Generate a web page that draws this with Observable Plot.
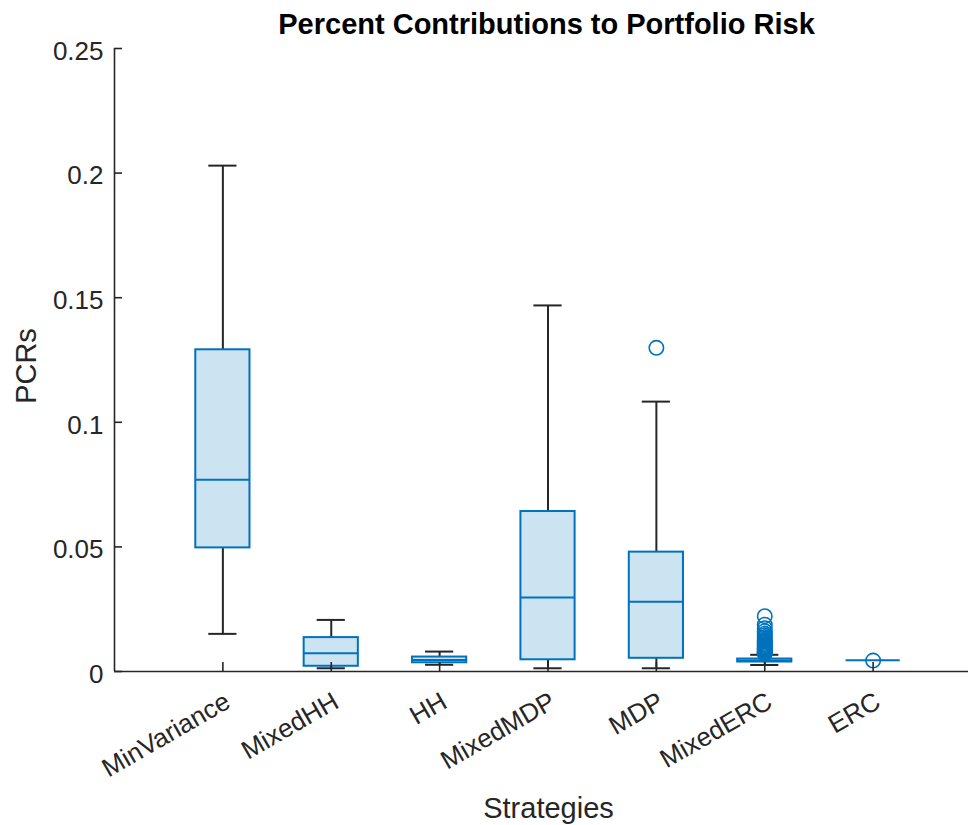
<!DOCTYPE html>
<html>
<head>
<meta charset="utf-8">
<script src="https://cdn.jsdelivr.net/npm/d3@7"></script>
<script src="https://cdn.jsdelivr.net/npm/@observablehq/plot@0.6"></script>
<style>
  html, body { margin: 0; padding: 0; background: white; }
  #chart svg { display: block; }
</style>
</head>
<body>
<div id="chart"></div>
<script>
// ---- data ----
const categories = ["MinVariance", "MixedHH", "HH", "MixedMDP", "MDP", "MixedERC", "ERC"];
const whiskerLow  = [0.0151, 0.0013, 0.0027, 0.0013, 0.0013, 0.0026, 0.0045];
const q1          = [0.0496, 0.0021, 0.0035, 0.0047, 0.0053, 0.0038, 0.0045];
const medians     = [0.0769, 0.0073, 0.0046, 0.0297, 0.0280, 0.0044, 0.0045];
const q3          = [0.1291, 0.0136, 0.0058, 0.0642, 0.0479, 0.0050, 0.0045];
const whiskerHigh = [0.2030, 0.0207, 0.0080, 0.1469, 0.1083, 0.0067, 0.0045];

const outlierCategory = [
  "MDP",
  "MixedERC", "MixedERC", "MixedERC", "MixedERC", "MixedERC", "MixedERC", "MixedERC",
  "MixedERC", "MixedERC", "MixedERC", "MixedERC", "MixedERC", "MixedERC", "MixedERC",
  "MixedERC", "MixedERC", "MixedERC", "MixedERC", "MixedERC", "MixedERC", "MixedERC",
  "MixedERC", "MixedERC", "MixedERC",
  "ERC"
];
const outlierValue = [
  0.1299,
  0.0222, 0.0188, 0.0174, 0.0162, 0.0152, 0.0145, 0.0138,
  0.0131, 0.0125, 0.0120, 0.0115, 0.0110, 0.0106, 0.0102,
  0.0098, 0.0094, 0.0091, 0.0088, 0.0085, 0.0082, 0.0079,
  0.0077, 0.0075, 0.0072,
  0.0044
];

const yTicks = [0, 0.05, 0.1, 0.15, 0.2, 0.25];
const yTickLabels = ["0", "0.05", "0.1", "0.15", "0.2", "0.25"];

const titleText = "Percent Contributions to Portfolio Risk";
const xLabelText = "Strategies";
const yLabelText = "PCRs";

// ---- derived tables ----
const boxes = categories.map((c, k) => ({
  i: k + 1, lo: whiskerLow[k], q1: q1[k], med: medians[k], q3: q3[k], hi: whiskerHigh[k]
}));
const whiskered = boxes.filter(d => d.hi > d.lo);
const outliers = outlierCategory.map((c, k) => ({ i: categories.indexOf(c) + 1, v: outlierValue[k] }));
const idx = boxes.map(d => d.i);

const blue = "#0072BD";
const ink = "#262626";
const font = "'Liberation Sans', Arial, Helvetica, sans-serif";
const halfBox = 0.25, halfCap = 0.13;

const chart = Plot.plot({
  width: 968,
  height: 825,
  marginTop: 48,
  marginBottom: 154,
  marginLeft: 114,
  marginRight: 0,
  style: { fontFamily: font, color: ink, background: "white", overflow: "visible" },
  x: { type: "linear", domain: [0, 8], range: [114, 981] },
  y: { type: "linear", domain: [0, 0.25] },
  marks: [
    // whiskers
    Plot.ruleX(whiskered, { x: "i", y1: "q3", y2: "hi", stroke: ink, strokeWidth: 2 }),
    Plot.ruleX(whiskered, { x: "i", y1: "lo", y2: "q1", stroke: ink, strokeWidth: 2 }),
    Plot.ruleY(whiskered, { y: "hi", x1: d => d.i - halfCap, x2: d => d.i + halfCap, stroke: ink, strokeWidth: 2 }),
    Plot.ruleY(whiskered, { y: "lo", x1: d => d.i - halfCap, x2: d => d.i + halfCap, stroke: ink, strokeWidth: 2 }),
    // boxes
    Plot.rect(boxes, {
      x1: d => d.i - halfBox, x2: d => d.i + halfBox, y1: "q1", y2: "q3",
      fill: blue, fillOpacity: 0.2, stroke: blue, strokeWidth: 2
    }),
    // medians
    Plot.ruleY(boxes, { y: "med", x1: d => d.i - halfBox, x2: d => d.i + halfBox, stroke: blue, strokeWidth: 2 }),
    // outliers
    Plot.dot(outliers, { x: "i", y: "v", r: 7.2, stroke: blue, strokeWidth: 1.6, fill: "none" }),
    // axis lines
    Plot.ruleX([0], { stroke: ink, strokeWidth: 1.6 }),
    Plot.ruleY([0], { stroke: ink, strokeWidth: 1.6 }),
    // inward tick marks
    Plot.ruleY(yTicks, { y: d => d, x1: 0, x2: 0.074, stroke: ink, strokeWidth: 1.6 }),
    Plot.ruleX(idx, { x: d => d, y1: 0, y2: 0.0036, stroke: ink, strokeWidth: 1.6 }),
    // tick labels
    Plot.axisY(yTicks, {
      anchor: "left", tickSize: 0, tickPadding: 11, label: null,
      tickFormat: d => yTickLabels[yTicks.indexOf(d)],
      fontSize: 26, dy: 3, fill: ink
    }),
    Plot.axisX(idx, {
      anchor: "bottom", tickSize: 0, tickPadding: 19, label: null,
      tickRotate: -30, textAnchor: "end", lineAnchor: "top",
      tickFormat: d => categories[d - 1],
      fontSize: 26, fill: ink
    }),
    // titles
    Plot.text([titleText], {
      frameAnchor: "top", dy: -15, dx: 5, lineAnchor: "bottom",
      fontSize: 29, fontWeight: "bold", fill: "#000"
    }),
    Plot.text([xLabelText], {
      frameAnchor: "bottom", dy: 146, dx: 7, lineAnchor: "bottom",
      fontSize: 29, fill: ink
    }),
    Plot.text([yLabelText], {
      frameAnchor: "left", dx: -79, dy: 6, rotate: -90, textAnchor: "middle", lineAnchor: "bottom",
      fontSize: 29, fill: ink
    })
  ]
});
document.getElementById("chart").appendChild(chart);
</script>
</body>
</html>
